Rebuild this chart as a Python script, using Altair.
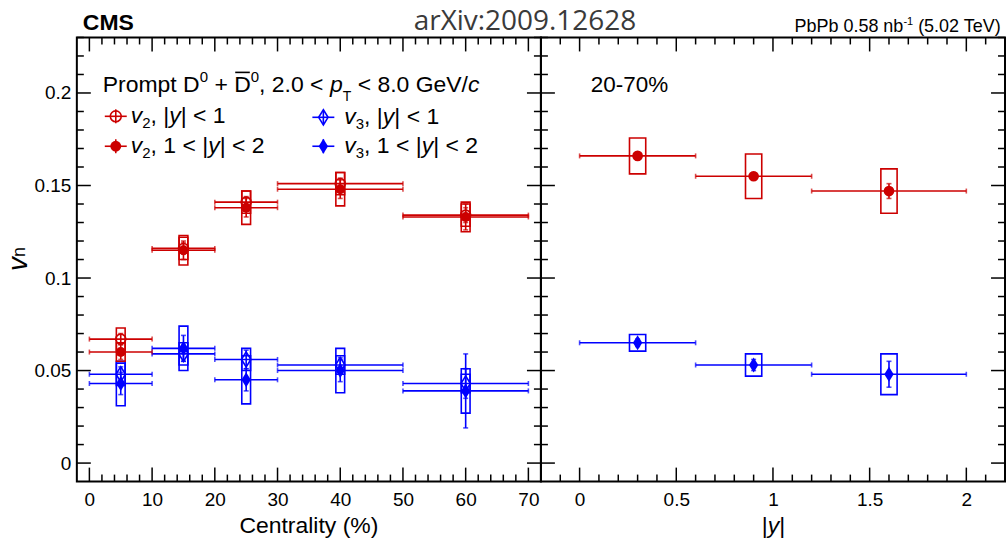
import altair as alt
import pandas as pd

# ---------------- data ----------------
cent_lo = [0, 10, 20, 30, 50]
cent_hi = [10, 20, 30, 50, 70]
cent_mid = [5, 15, 25, 40, 60]

v2_mid_val = [0.067, 0.116, 0.141, 0.151, 0.134]
v2_mid_stat = [0.003, 0.003, 0.003, 0.003, 0.004]
v2_mid_syst = [0.006, 0.006, 0.006, 0.006, 0.006]

v2_fwd_val = [0.060, 0.115, 0.138, 0.148, 0.133]
v2_fwd_stat = [0.004, 0.005, 0.005, 0.005, 0.007]
v2_fwd_syst = [0.005, 0.008, 0.009, 0.009, 0.008]

v3_mid_val = [0.048, 0.059, 0.056, 0.053, 0.043]
v3_mid_stat = [0.004, 0.004, 0.005, 0.004, 0.008]
v3_mid_syst = [0.006, 0.006, 0.006, 0.005, 0.005]

v3_fwd_val = [0.043, 0.062, 0.045, 0.050, 0.039]
v3_fwd_stat = [0.006, 0.007, 0.006, 0.006, 0.020]
v3_fwd_syst = [0.012, 0.012, 0.013, 0.012, 0.012]

rap_lo = [0.0, 0.6, 1.2]
rap_hi = [0.6, 1.2, 2.0]
rap_mid = [0.3, 0.9, 1.6]

v2_rap_val = [0.166, 0.155, 0.147]
v2_rap_stat = [0.002, 0.002, 0.004]
v2_rap_syst = [0.0097, 0.012, 0.012]

v3_rap_val = [0.065, 0.053, 0.048]
v3_rap_stat = [0.002, 0.003, 0.007]
v3_rap_syst = [0.0045, 0.006, 0.011]

cent_major = [0, 10, 20, 30, 40, 50, 60, 70]
cent_minor = [v for v in range(2, 71, 2) if v % 10 != 0]
rap_major = [0, 0.5, 1, 1.5, 2]
rap_minor = [round(-0.1 + 0.1 * i, 1) for i in range(23) if round(-0.1 + 0.1 * i, 1) not in (0, 0.5, 1.0, 1.5, 2.0)]
vn_major = [0, 0.05, 0.1, 0.15, 0.2]
vn_minor = [round(0.01 * i, 2) for i in range(24) if i % 5 != 0]

# ---------------- style ----------------
FONT = "Liberation Sans"
RED = "#cc0000"
BLUE = "#0000ff"
W, H = 465, 445
TMAJ, TMIN = 14, 7
DIAMOND = "M0,-1L0.62,0L0,1L-0.62,0Z"
DSIZE = 230
CSIZE = 100
YDOM = [-0.01, 0.23]

AW = {' ': 278, '%': 889, '(': 333, ')': 333, '+': 584, ',': 278, '-': 333, '.': 278,
      '/': 278, ':': 278, '<': 584, '|': 260, 'C': 722, 'D': 722, 'G': 778, 'M': 833,
      'P': 667, 'S': 667, 'T': 611, 'V': 667, 'a': 556, 'b': 556, 'c': 500, 'e': 556,
      'i': 222, 'l': 222, 'm': 833, 'n': 556, 'o': 556, 'p': 556, 'r': 333, 't': 278,
      'v': 500, 'y': 500}


def tw(s, size):
    return sum(AW.get(ch, 556) for ch in s) * size / 1000.0


ONE = pd.DataFrame({"a": [0]})


def txt(text, x, y, size, italic=False, bold=False, color="black", align="left", font=FONT, angle=0):
    kw = {}
    if angle:
        kw["angle"] = angle
    return alt.Chart(ONE).mark_text(
        text=text, fontSize=size, fontStyle="italic" if italic else "normal",
        fontWeight="bold" if bold else "normal", color=color, align=align,
        baseline="alphabetic", font=font, **kw
    ).encode(x=alt.value(x), y=alt.value(y))


def rich(segs, x0, y0):
    """segs: (text, size, italic, dy)"""
    out = []
    x = x0
    pos = []
    for text, size, italic, dy in segs:
        lead = len(text) - len(text.lstrip(" "))
        x_draw = x + tw(" " * lead, size)
        core = text.strip(" ")
        if core:
            out.append(txt(core, x_draw, y0 + dy, size, italic=italic))
        pos.append(x_draw)
        x += tw(text, size)
    return out, pos, x


def series(xlo, xhi, xmid, val, stat, syst, col, shape, filled, size, hw):
    return pd.DataFrame({
        "xlo": xlo, "xhi": xhi, "x": xmid, "y": val,
        "ylo": [v - s for v, s in zip(val, stat)], "yhi": [v + s for v, s in zip(val, stat)],
        "slo": [v - s for v, s in zip(val, syst)], "shi": [v + s for v, s in zip(val, syst)],
        "bx1": [m - hw for m in xmid], "bx2": [m + hw for m in xmid],
        "col": col, "shape": shape, "filled": filled, "msize": size,
    })


YSCALE = alt.Scale(domain=YDOM, nice=False, zero=False)


def data_layers(df, xscale, xaxis, yaxis):
    base = alt.Chart(df)
    col = alt.Color("col:N", scale=None)

    def X(f):
        return alt.X(f, type="quantitative", scale=xscale, axis=xaxis)

    def Y(f):
        return alt.Y(f, type="quantitative", scale=YSCALE, axis=yaxis)

    boxes = base.mark_rect(filled=False, strokeWidth=1.6).encode(
        x=X("bx1"), x2="bx2", y=Y("slo"), y2="shi", color=col)
    hbars = base.mark_rule(strokeWidth=1.6).encode(x=X("xlo"), x2="xhi", y=Y("y"), color=col)
    hcaps = base.transform_fold(["xlo", "xhi"], as_=["k", "xe"]).mark_tick(
        orient="vertical", size=5, thickness=1.6).encode(x=X("xe:Q"), y=Y("y"), color=col)
    vbars = base.mark_rule(strokeWidth=1.6).encode(x=X("x"), y=Y("ylo"), y2="yhi", color=col)
    vcaps = base.transform_fold(["ylo", "yhi"], as_=["k", "ye"]).mark_tick(
        orient="horizontal", size=5, thickness=1.6).encode(x=X("x"), y=Y("ye:Q"), color=col)
    fmark = base.transform_filter("datum.filled").mark_point(filled=True, opacity=1).encode(
        x=X("x"), y=Y("y"), color=col, shape=alt.Shape("shape:N", scale=None),
        size=alt.Size("msize:Q", scale=None))
    omark = base.transform_filter("!datum.filled").mark_point(filled=False, opacity=1, strokeWidth=1.6).encode(
        x=X("x"), y=Y("y"), color=col, shape=alt.Shape("shape:N", scale=None),
        size=alt.Size("msize:Q", scale=None))
    return [boxes, hbars, hcaps, vbars, vcaps, omark, fmark]


def frame_ticks(xmaj, xmin, xscale, xaxis, yaxis):
    layers = []
    for vals, L in ((xmaj, TMAJ), (xmin, TMIN)):
        d = alt.Chart(pd.DataFrame({"t": vals}))
        xe = alt.X("t:Q", scale=xscale, axis=xaxis)
        layers.append(d.mark_rule(color="black", strokeWidth=1.5).encode(x=xe, y=alt.value(0), y2=alt.value(L)))
        layers.append(d.mark_rule(color="black", strokeWidth=1.5).encode(x=xe, y=alt.value(H), y2=alt.value(H - L)))
    for vals, L in ((vn_major, TMAJ), (vn_minor, TMIN)):
        d = alt.Chart(pd.DataFrame({"t": vals}))
        ye = alt.Y("t:Q", scale=YSCALE, axis=yaxis)
        layers.append(d.mark_rule(color="black", strokeWidth=1.5).encode(y=ye, x=alt.value(0), x2=alt.value(L)))
        layers.append(d.mark_rule(color="black", strokeWidth=1.5).encode(y=ye, x=alt.value(W), x2=alt.value(W - L)))
    return layers


def leg_marker(mx, my, color, shape, filled, size):
    d = alt.Chart(ONE)
    lay = [
        d.mark_rule(color=color, strokeWidth=1.6).encode(x=alt.value(mx - 11), x2=alt.value(mx + 11), y=alt.value(my)),
        d.mark_rule(color=color, strokeWidth=1.6).encode(x=alt.value(mx), y=alt.value(my - 7), y2=alt.value(my + 7)),
    ]
    if filled:
        lay.append(d.mark_point(filled=True, opacity=1, color=color, shape=shape, size=size).encode(
            x=alt.value(mx), y=alt.value(my)))
    else:
        lay.append(d.mark_point(filled=False, opacity=1, color=color, shape=shape, size=size, strokeWidth=1.6).encode(
            x=alt.value(mx), y=alt.value(my)))
    return lay


def bound_box(x0, x1, y0, y1):
    d = alt.Chart(ONE)
    return [
        d.mark_rule(strokeOpacity=0, strokeWidth=0.01).encode(x=alt.value(x0), x2=alt.value(x1), y=alt.value(y0)),
        d.mark_rule(strokeOpacity=0, strokeWidth=0.01).encode(x=alt.value(x0), x2=alt.value(x1), y=alt.value(y1)),
    ]


# ---------------- left panel ----------------
xs_left = alt.Scale(domain=[-2, 72], nice=False, zero=False)
xa_left = alt.Axis(values=cent_major, ticks=False, domain=False, grid=False, labelFontSize=19,
                   labelPadding=9, title=None, labelFont=FONT, labelColor="black")
ya_left = alt.Axis(values=vn_major, format="~g", ticks=False, domain=False, grid=False,
                   labelFontSize=19, labelPadding=6, title=None, labelFont=FONT, labelColor="black")
HW_L = 0.7
df_left = pd.concat([
    series(cent_lo, cent_hi, cent_mid, v3_fwd_val, v3_fwd_stat, v3_fwd_syst, BLUE, DIAMOND, True, DSIZE, HW_L),
    series(cent_lo, cent_hi, cent_mid, v3_mid_val, v3_mid_stat, v3_mid_syst, BLUE, DIAMOND, False, DSIZE, HW_L),
    series(cent_lo, cent_hi, cent_mid, v2_fwd_val, v2_fwd_stat, v2_fwd_syst, RED, "circle", True, CSIZE, HW_L),
    series(cent_lo, cent_hi, cent_mid, v2_mid_val, v2_mid_stat, v2_mid_syst, RED, "circle", False, CSIZE, HW_L),
], ignore_index=True)

left_layers = data_layers(df_left, xs_left, xa_left, ya_left) + frame_ticks(cent_major, cent_minor, xs_left, xa_left, ya_left)

# legend header
FS = 23
HB = 55
seg1 = [("Prompt D", FS, False, 0), ("0", 15, False, -10), (" + ", FS, False, 0), ("D", FS, False, 0),
        ("0", 15, False, -10), (", 2.0 < ", FS, False, 0), ("p", FS, True, 0), ("T", 14, False, 9),
        (" < 8.0 GeV/", FS, False, 0), ("c", FS, True, 0)]
hdr, hpos, _ = rich(seg1, 26, HB)
dbar_x = hpos[3]
hdr.append(alt.Chart(ONE).mark_rule(color="black", strokeWidth=1.6).encode(
    x=alt.value(dbar_x + 1), x2=alt.value(dbar_x + tw("D", FS) - 1), y=alt.value(HB - 20)))

leg = []
LF = 23
for (mx, my, tx, color, shape, filled, size, sub, rng) in [
    (39, 79, 54, RED, "circle", False, 120, "2", "|y| < 1"),
    (39, 109, 54, RED, "circle", True, 120, "2", "1 < |y| < 2"),
    (247, 80, 268, BLUE, DIAMOND, False, DSIZE, "3", "|y| < 1"),
    (247, 109, 268, BLUE, DIAMOND, True, DSIZE, "3", "1 < |y| < 2"),
]:
    leg += leg_marker(mx, my, color, shape, filled, size)
    pre, yi = rng.split("y")
    segs = [("v", LF, True, 0), (sub, 15, False, 5), (", " + pre, LF, False, 0), ("y", LF, True, 0), (yi, LF, False, 0)]
    t, _, _ = rich(segs, tx, my + 7)
    leg += t

titles_left = [
    txt("CMS", 6, -7, 23, bold=True),
    txt("arXiv:2009.12628", 449, -7, 28, color="#3a3a3a", align="center", font="Open Sans"),
    txt("Centrality (%)", W / 2, 497, 23, align="center"),
    txt("v", -50, 234, 28, italic=True, angle=270),
    txt("n", -52, 220, 18, angle=270),
]

left = alt.layer(*(left_layers + hdr + leg + titles_left + bound_box(-76, 0, -36, H + 59))).properties(width=W, height=H)

# ---------------- right panel ----------------
xs_right = alt.Scale(domain=[-0.2, 2.2], nice=False, zero=False)
xa_right = alt.Axis(values=rap_major, format="~g", ticks=False, domain=False, grid=False, labelFontSize=19,
                    labelPadding=9, title=None, labelFont=FONT, labelColor="black")
HW_R = 0.042
df_right = pd.concat([
    series(rap_lo, rap_hi, rap_mid, v3_rap_val, v3_rap_stat, v3_rap_syst, BLUE, DIAMOND, True, DSIZE, HW_R),
    series(rap_lo, rap_hi, rap_mid, v2_rap_val, v2_rap_stat, v2_rap_syst, RED, "circle", True, 115, HW_R),
], ignore_index=True)

right_layers = data_layers(df_right, xs_right, xa_right, None) + frame_ticks(rap_major, rap_minor, xs_right, xa_right, None)

pb_segs = [("PbPb 0.58 nb", 18, False, 0), ("-1", 11, False, -7), (" (5.02 TeV)", 18, False, 0)]
pb_w = sum(tw(s, z) for s, z, _, _ in pb_segs)
pb, _, _ = rich(pb_segs, 463 - pb_w, -5)

ytitle, _, _ = rich([("|", 23, False, 0), ("y", 23, True, 0), ("|", 23, False, 0)], 233 - tw("|y|", 23) / 2, 497)

right_text = [txt("20-70%", 50, 55, 22.5)] + pb + ytitle

right = alt.layer(*(right_layers + right_text + bound_box(W - 5, W + 1, -36, H + 59))).properties(width=W, height=H)

chart = alt.hconcat(left, right, spacing=0, bounds="flush").properties(
    padding=0,
).configure(font=FONT).configure_view(stroke="black", strokeWidth=2)

chart.save("out.html", embed_options={"renderer": "svg", "actions": False})
